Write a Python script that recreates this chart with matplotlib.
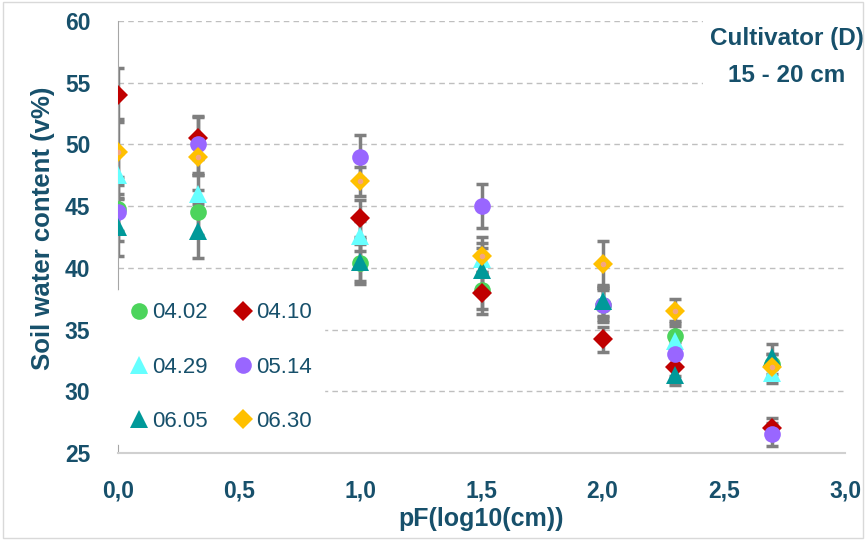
import matplotlib.pyplot as plt
from matplotlib.patches import Rectangle
from matplotlib.ticker import FuncFormatter

# pF values (x) and soil water content (v%) per sampling date
pf = [0.0, 0.33, 1.0, 1.5, 2.0, 2.3, 2.7]

swc_0402 = [44.8, 44.5, 40.4, 38.2, 37.0, 34.5, 32.2]
swc_0410 = [54.0, 50.5, 44.0, 38.0, 34.2, 32.0, 27.0]
swc_0429 = [47.5, 46.0, 42.6, 40.7, 37.3, 34.1, 31.5]
swc_0514 = [44.5, 50.0, 49.0, 45.0, 37.0, 33.0, 26.5]
swc_0605 = [43.3, 43.0, 40.5, 39.8, 37.3, 31.3, 32.8]
swc_0630 = [49.4, 49.0, 47.0, 41.0, 40.3, 36.5, 32.0]

err_0402 = [2.6, 1.8, 1.5, 1.5, 1.4, 1.2, 0.8]
err_0410 = [2.2, 1.7, 1.5, 1.7, 1.0, 0.8, 0.8]
err_0429 = [1.8, 1.5, 1.2, 1.3, 1.2, 1.2, 0.8]
err_0514 = [1.5, 2.3, 1.8, 1.8, 1.2, 1.0, 0.9]
err_0605 = [2.3, 2.2, 1.8, 1.8, 1.3, 0.8, 1.0]
err_0630 = [2.7, 1.5, 1.2, 1.5, 1.9, 1.0, 1.0]

text_col = '#17506B'
plt.rcParams['font.family'] = ['Liberation Sans', 'DejaVu Sans']

W, H = 866, 540
fig = plt.figure(figsize=(W / 100, H / 100), dpi=100)
ax = fig.add_axes([118 / W, 1 - 453 / H, (845 - 118) / W, (453 - 21) / H])

series = [
    ('04.02', swc_0402, err_0402, 'o', '#4CD45C', 12),
    ('04.10', swc_0410, err_0410, 'D', '#C00000', 10),
    ('04.29', swc_0429, err_0429, '^', '#66FFFF', 13),
    ('05.14', swc_0514, err_0514, 'o', '#9966FF', 12),
    ('06.05', swc_0605, err_0605, '^', '#009999', 13),
    ('06.30', swc_0630, err_0630, 'D', '#FFC000', 10),
]

# error bars first, markers on top
for name, y, e, m, c, ms in series:
    ax.errorbar(pf, y, yerr=e, fmt='none', ecolor='#7F7F7F', elinewidth=2.5,
                capsize=4, capthick=2.5, zorder=2)

handles = {}
for name, y, e, m, c, ms in series:
    h, = ax.plot(pf, y, linestyle='none', marker=m, color=c, markersize=ms,
                 markeredgewidth=0, label=name, zorder=3)
    handles[name] = h
    if name == '06.30':
        ax.plot(pf, y, linestyle='none', marker='o', color='#F4A582',
                markersize=3, zorder=4)

ax.set_xlim(0, 3.0)
ax.set_ylim(25, 60)
ax.set_xticks([0, 0.5, 1.0, 1.5, 2.0, 2.5, 3.0])
ax.set_yticks(range(25, 61, 5))
ax.xaxis.set_major_formatter(FuncFormatter(lambda v, p: f'{v:.1f}'.replace('.', ',')))
ax.tick_params(length=0, labelsize=16.5, labelcolor=text_col)
ax.tick_params(axis='y', pad=20)
ax.tick_params(axis='x', pad=19)
for lab in ax.get_xticklabels() + ax.get_yticklabels():
    lab.set_fontweight('bold')

ax.grid(axis='y', linestyle=(0, (4, 3)), color='#BFBFBF', linewidth=1)
ax.set_axisbelow(True)
for s in ['top', 'right']:
    ax.spines[s].set_visible(False)
ax.spines['left'].set_color('#A6A6A6')
ax.spines['bottom'].set_color('#D0D0D0')
ax.spines['bottom'].set_linewidth(1.5)

ax.set_xlabel('pF(log10(cm))', fontsize=18, fontweight='bold', color=text_col, labelpad=3)
ax.set_ylabel('Soil water content (v%)', fontsize=18.5, fontweight='bold', color=text_col)
ax.yaxis.set_label_coords(-0.087, 0.52)

order = ['04.02', '04.29', '06.05', '04.10', '05.14', '06.30']
leg = ax.legend([handles[k] for k in order], order, ncol=2, loc='lower left',
                bbox_to_anchor=(-0.003, 0.02), frameon=True, fontsize=16,
                labelspacing=1.5, columnspacing=1.05, handletextpad=0.1,
                handlelength=1.0, borderpad=0.55, borderaxespad=0.0)
leg.get_frame().set_facecolor('white')
leg.get_frame().set_edgecolor('white')
leg.get_frame().set_alpha(1)
for t in leg.get_texts():
    t.set_color(text_col)

# white box behind the caption hides the gridlines like in the original
fig.patches.append(Rectangle((703 / W, 1 - 95 / H), 150 / W, 80 / H,
                             transform=fig.transFigure, facecolor='white',
                             edgecolor='none', zorder=1))
fig.text(787 / W, 1 - 39 / H, 'Cultivator (D)', ha='center', va='center',
         fontsize=17.5, fontweight='bold', color=text_col, zorder=3)
fig.text(787 / W, 1 - 75 / H, '15 - 20 cm', ha='center', va='center',
         fontsize=17.5, fontweight='bold', color=text_col, zorder=3)

fig.patches.append(Rectangle((0.004, 0.004), 0.992, 0.992, transform=fig.transFigure,
                             fill=False, edgecolor='#D9D9D9', linewidth=1))

fig.savefig('out.png', dpi=100)
